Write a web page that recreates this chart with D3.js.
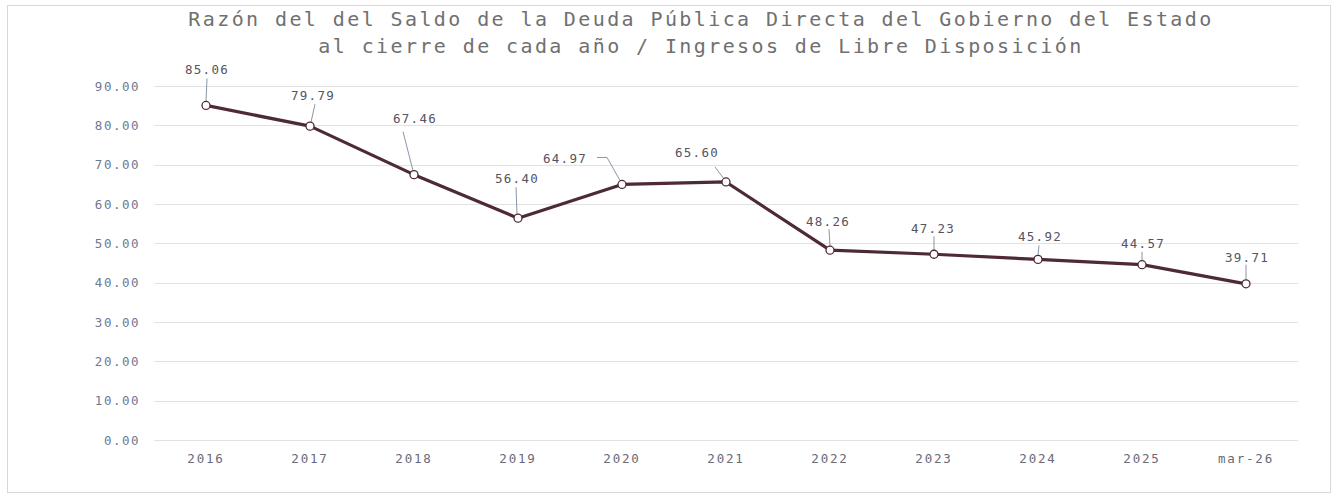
<!DOCTYPE html>
<html><head><meta charset="utf-8">
<script src="https://cdn.jsdelivr.net/npm/d3@7"></script>
<style>
html,body{margin:0;padding:0;background:#fff;}
svg{display:block;font-family:"DejaVu Sans Mono","Liberation Mono",monospace;}
</style></head>
<body>
<svg id="c" width="1338" height="497"></svg>
<script>
const categories = ["2016","2017","2018","2019","2020","2021","2022","2023","2024","2025","mar-26"];
const values = [85.06,79.79,67.46,56.40,64.97,65.60,48.26,47.23,45.92,44.57,39.71];
const labels = ["85.06","79.79","67.46","56.40","64.97","65.60","48.26","47.23","45.92","44.57","39.71"];
const yTicks = [0,10,20,30,40,50,60,70,80,90];
const titleLines = ["Razón del del Saldo de la Deuda Pública Directa del Gobierno del Estado","al cierre de cada año / Ingresos de Libre Disposición"];

// label placement: [label dx, label dy (baseline), leader path points relative to the point]
const labelLayout = [
  {dx:1, dy:-31, lead:[[1,-27],[0,-4]]},
  {dx:3, dy:-26, lead:[[5,-22],[1,-4]]},
  {dx:1, dy:-52, lead:[[-11,-43],[-1,-4]]},
  {dx:-1, dy:-35, lead:[[-2,-31],[-1,-4]]},
  {dx:-57, dy:-21, lead:[[-25,-27],[-15,-27],[-2,-4]]},
  {dx:-29, dy:-25, lead:[[-11,-15],[-2,-3]]},
  {dx:-2, dy:-24, lead:[[-1,-21],[0,-4]]},
  {dx:-1, dy:-21, lead:[[0,-18],[0,-4]]},
  {dx:2, dy:-18, lead:[[1,-14],[0,-4]]},
  {dx:1, dy:-17, lead:[[0,-13],[0,-4]]},
  {dx:1, dy:-22, lead:[[0,-19],[0,-4]]}
];

const svg = d3.select("#c");
const W = 1338, H = 497;

svg.append("rect").attr("x",7.5).attr("y",5.5).attr("width",1323).attr("height",487)
  .attr("fill","#fff").attr("stroke","#d8d8d8").attr("stroke-width",1);

const x = d3.scaleBand().domain(categories).range([154,1298]);
const y = d3.scaleLinear().domain([0,90]).range([440,86]);

// title
svg.append("g").selectAll("text").data(titleLines).join("text")
  .attr("x",701).attr("y",(d,i)=>26+i*27)
  .attr("text-anchor","middle")
  .attr("font-size",20).attr("letter-spacing",2.4)
  .attr("fill","#707070")
  .text(d=>d);

// grid
const grid = svg.append("g");
grid.selectAll("line").data(yTicks).join("line")
  .attr("x1",154).attr("x2",1298)
  .attr("y1",d=>Math.round(y(d))+0.5).attr("y2",d=>Math.round(y(d))+0.5)
  .attr("stroke","#e2e2e2").attr("stroke-width",1);

// y axis
const yAxis = d3.axisLeft(y).tickValues(yTicks).tickFormat(d3.format(".2f")).tickSize(0).tickPadding(14);
const gy = svg.append("g").attr("transform","translate(154,0)").call(yAxis);
gy.select(".domain").remove();
gy.selectAll("text").attr("font-size",12.5).attr("letter-spacing",1.5).attr("fill","#6e7893")
  .attr("font-family","DejaVu Sans Mono, monospace");

// x axis
const xAxis = d3.axisBottom(x).tickSize(0).tickPadding(14);
const gx = svg.append("g").attr("transform","translate(0,440)").call(xAxis);
gx.select(".domain").remove();
gx.selectAll("text").attr("font-size",12.5).attr("letter-spacing",1.8).attr("fill","#6a6a78")
  .attr("font-family","DejaVu Sans Mono, monospace");

const cx = d => x(d) + x.bandwidth()/2;
const pts = categories.map((c,i)=>({c, v:values[i], l:labels[i], lay:labelLayout[i]}));

// line
svg.append("path").datum(pts)
  .attr("d", d3.line().x(d=>cx(d.c)).y(d=>y(d.v)))
  .attr("fill","none").attr("stroke","#4e2a36").attr("stroke-width",3.2)
  .attr("stroke-linejoin","round");

// leaders
svg.append("g").selectAll("path").data(pts).join("path")
  .attr("d", d => d3.line()(d.lay.lead.map(p=>[cx(d.c)+p[0], y(d.v)+p[1]])))
  .attr("fill","none").attr("stroke","#8a95a8").attr("stroke-width",1);

// markers
svg.append("g").selectAll("circle").data(pts).join("circle")
  .attr("cx",d=>cx(d.c)).attr("cy",d=>y(d.v)).attr("r",4)
  .attr("fill","#fff").attr("stroke","#4e2a36").attr("stroke-width",1.3);

// labels
svg.append("g").selectAll("text").data(pts).join("text")
  .attr("x",d=>cx(d.c)+d.lay.dx).attr("y",d=>y(d.v)+d.lay.dy)
  .attr("text-anchor","middle")
  .attr("font-size",12.5).attr("letter-spacing",1.3).attr("fill","#555560")
  .text(d=>d.l);
</script>
</body></html>
